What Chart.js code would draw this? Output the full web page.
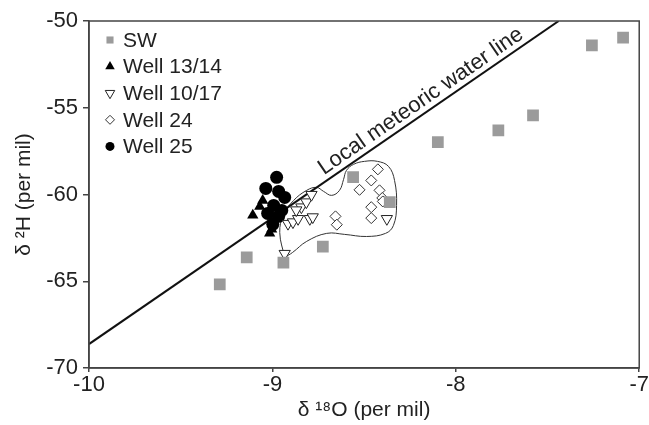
<!DOCTYPE html>
<html>
<head>
<meta charset="utf-8">
<script src="https://cdn.jsdelivr.net/npm/chart.js@4.4.1/dist/chart.umd.min.js"></script>
<style>
  html, body { margin: 0; padding: 0; background: #fff; }
</style>
</head>
<body>
<canvas id="chart" width="649" height="425"></canvas>
<script>
// Values: x = δ18O, y = δ2H (per mil)
const swX = [-9.287, -9.14, -8.94, -8.725, -8.56, -8.36, -8.098, -7.768, -7.579, -7.258, -7.088];
const swY = [-65.18, -63.63, -63.92, -63.0, -59.0, -60.44, -56.98, -56.30, -55.44, -51.40, -50.96];

const w1314X = [-9.107, -9.053, -9.069, -9.020, -9.015, -9.004];
const w1314Y = [-61.20, -60.34, -60.69, -61.03, -62.24, -62.01];

const w1017X = [-8.933, -8.915, -8.888, -8.86, -8.796, -8.842, -8.815, -8.787, -8.78, -8.87, -8.376];
const w1017Y = [-63.41, -61.68, -61.59, -61.40, -61.40, -60.73, -60.44, -60.01, -61.30, -60.90, -61.40];

const w24X = [-8.425, -8.461, -8.525, -8.416, -8.401, -8.398, -8.461, -8.461, -8.656, -8.649];
const w24Y = [-58.55, -59.19, -59.73, -59.76, -60.20, -60.40, -60.73, -61.36, -61.26, -61.74];

const w25X = [-8.977, -9.036, -8.966, -8.933, -8.993, -8.949, -9.026, -8.998, -8.966];
const w25Y = [-59.01, -59.65, -59.82, -60.17, -60.63, -60.92, -61.09, -61.72, -61.26];

// local meteoric water line, end points
const lmwlX = [-10, -7.439];
const lmwlY = [-68.62, -50];

// hand-drawn envelope round wells 10/17 and 24 (closed)
const envX = [-8.933, -8.960, -8.939, -8.884, -8.813, -8.759, -8.721, -8.677, -8.634, -8.612, -8.596, -8.557,
              -8.498, -8.427, -8.367, -8.334, -8.323, -8.340, -8.383, -8.487, -8.606, -8.704, -8.813, -8.890, -8.933];
const envY = [-63.63, -62.19, -61.15, -60.34, -59.76, -59.59, -59.82, -60.05, -59.76, -59.13, -58.61, -58.26,
              -58.09, -58.09, -58.38, -59.19, -60.63, -61.78, -62.24, -62.42, -62.30, -62.24, -62.70, -63.34, -63.63];

const xTicks = [-10, -9, -8, -7];
const yTicks = [-70, -65, -60, -55, -50];

const FONT = '"Liberation Sans", Arial, Helvetica, sans-serif';
const INK = '#222';
const AXIS = '#444';

const pts = (xs, ys) => xs.map((x, i) => ({ x, y: ys[i] }));

// ── legend drawn inside the plot, top left ──────────────────────────────
const insideLegend = {
  id: 'insideLegend',
  afterDraw(chart) {
    const ctx = chart.ctx;
    const a = chart.chartArea;
    ctx.save();
    ctx.font = '21px ' + FONT;
    ctx.textBaseline = 'middle';
    let row = 0;
    chart.data.datasets.forEach(ds => {
      if (!ds.label) return;
      const y = a.top + 19 + row * 26.6;
      const x = a.left + 21;
      ctx.fillStyle = ds.backgroundColor;
      ctx.strokeStyle = ds.borderColor;
      ctx.lineWidth = ds.borderWidth;
      Chart.helpers.drawPoint(ctx, {
        pointStyle: ds.pointStyle, rotation: ds.rotation || 0,
        radius: ds.legendRadius, borderWidth: ds.borderWidth,
      }, x, y);
      ctx.fillStyle = INK;
      ctx.fillText(ds.label, a.left + 34, y + 1);
      row++;
    });
    ctx.restore();
  },
};

// ── frame + label along the water line ─────────────────────────────────
const frameAndLabel = {
  id: 'frameAndLabel',
  afterDatasetsDraw(chart) {
    const ctx = chart.ctx;
    const a = chart.chartArea;
    const xs = chart.scales.x, ys = chart.scales.y;
    ctx.save();
    ctx.strokeStyle = AXIS;
    ctx.lineWidth = 1.5;
    ctx.strokeRect(a.left, a.top, a.right - a.left, a.bottom - a.top);

    const x0 = xs.getPixelForValue(lmwlX[0]), y0 = ys.getPixelForValue(lmwlY[0]);
    const x1 = xs.getPixelForValue(lmwlX[1]), y1 = ys.getPixelForValue(lmwlY[1]);
    const ang = Math.atan2(y1 - y0, x1 - x0);
    const startX = -8.70;
    const t = (startX - lmwlX[0]) / (lmwlX[1] - lmwlX[0]);
    const sx = xs.getPixelForValue(startX);
    const sy = ys.getPixelForValue(lmwlY[0] + t * (lmwlY[1] - lmwlY[0]));
    ctx.translate(sx, sy);
    ctx.rotate(ang);
    ctx.font = '22px ' + FONT;
    ctx.fillStyle = INK;
    ctx.textBaseline = 'alphabetic';
    ctx.fillText('Local meteoric water line', 0, -6);
    ctx.restore();
  },
};

new Chart(document.getElementById('chart'), {
  type: 'scatter',
  data: {
    datasets: [
      {
        label: 'SW', data: pts(swX, swY),
        pointStyle: 'rect', pointRadius: 8.3, legendRadius: 5,
        backgroundColor: '#9b9b9b', borderColor: '#9b9b9b', borderWidth: 0,
      },
      {
        label: 'Well 13/14', data: pts(w1314X, w1314Y),
        pointStyle: 'triangle', pointRadius: 6.5, legendRadius: 5.5,
        backgroundColor: '#000', borderColor: '#000', borderWidth: 0,
      },
      {
        label: 'Well 10/17', data: pts(w1017X, w1017Y),
        pointStyle: 'triangle', rotation: 180, pointRadius: 6.5, legendRadius: 5.5,
        backgroundColor: '#fff', borderColor: '#222', borderWidth: 1,
      },
      {
        label: 'Well 24', data: pts(w24X, w24Y),
        pointStyle: 'rectRot', pointRadius: 5.5, legendRadius: 4.5,
        backgroundColor: '#fff', borderColor: '#333', borderWidth: 1,
      },
      {
        label: 'Well 25', data: pts(w25X, w25Y),
        pointStyle: 'circle', pointRadius: 6.5, legendRadius: 4.5,
        backgroundColor: '#000', borderColor: '#000', borderWidth: 0,
      },
      {
        label: '', data: pts(lmwlX, lmwlY), showLine: true,
        borderColor: '#111', borderWidth: 2, pointRadius: 0,
      },
      {
        label: '', data: pts(envX, envY), showLine: true, tension: 0.4,
        borderColor: '#333', borderWidth: 1, pointRadius: 0, fill: false,
      },
    ],
  },
  options: {
    responsive: false,
    animation: false,
    layout: { padding: { top: 21, right: 9, left: 0, bottom: 0 } },
    plugins: { legend: { display: false }, tooltip: { enabled: false } },
    scales: {
      x: {
        type: 'linear', min: -10, max: -7,
        afterFit: s => { s.height = 57; },
        afterBuildTicks: s => { s.ticks = xTicks.map(v => ({ value: v })); },
        grid: { drawOnChartArea: false, tickLength: 4, color: AXIS, lineWidth: 1.5 },
        border: { color: AXIS, width: 1.5 },
        ticks: { color: INK, font: { family: FONT, size: 22 }, padding: 0, callback: v => String(v) },
        title: {
          display: true, text: 'δ ¹⁸O (per mil)', color: INK,
          font: { family: FONT, size: 21 }, padding: { top: 0, bottom: 2 },
        },
      },
      y: {
        type: 'linear', min: -70, max: -50,
        afterFit: s => { s.width = 89; },
        afterBuildTicks: s => { s.ticks = yTicks.map(v => ({ value: v })); },
        grid: { drawOnChartArea: false, tickLength: 6, color: AXIS, lineWidth: 1.5 },
        border: { color: AXIS, width: 1.5 },
        ticks: { color: INK, font: { family: FONT, size: 22 }, padding: 5, callback: v => String(v) },
        title: {
          display: true, text: 'δ ²H (per mil)', color: INK,
          font: { family: FONT, size: 21 }, padding: { top: 12, bottom: 0 },
        },
      },
    },
  },
  plugins: [frameAndLabel, insideLegend],
});
</script>
</body>
</html>
